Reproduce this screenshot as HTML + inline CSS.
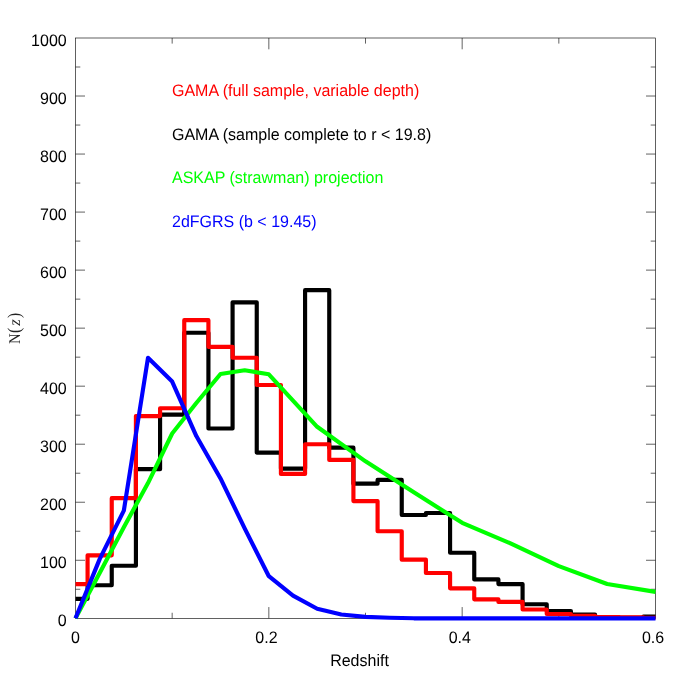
<!DOCTYPE html>
<html><head><meta charset="utf-8"><title>N(z)</title>
<style>
html,body{margin:0;padding:0;background:#fff;}
body{width:692px;height:692px;overflow:hidden;}
svg{display:block;will-change:transform;}
text{font-family:"Liberation Sans",sans-serif;font-size:16px;fill:#000;text-rendering:geometricPrecision;}
.ser{font-family:"Liberation Serif",serif;}
</style></head>
<body>
<svg width="692" height="692" viewBox="0 0 692 692">
<rect x="0" y="0" width="692" height="692" fill="#fff"/>
<g fill="none" stroke="#000" stroke-width="0.62">
<rect x="75.5" y="38.0" width="580.0" height="580.35"/>
<path d="M75.5,589.28h4.8 M655.5,589.28h-4.8 M75.5,560.27h9.5 M655.5,560.27h-9.5 M75.5,531.25h4.8 M655.5,531.25h-4.8 M75.5,502.24h9.5 M655.5,502.24h-9.5 M75.5,473.22h4.8 M655.5,473.22h-4.8 M75.5,444.21h9.5 M655.5,444.21h-9.5 M75.5,415.19h4.8 M655.5,415.19h-4.8 M75.5,386.18h9.5 M655.5,386.18h-9.5 M75.5,357.16h4.8 M655.5,357.16h-4.8 M75.5,328.15h9.5 M655.5,328.15h-9.5 M75.5,299.13h4.8 M655.5,299.13h-4.8 M75.5,270.12h9.5 M655.5,270.12h-9.5 M75.5,241.10h4.8 M655.5,241.10h-4.8 M75.5,212.09h9.5 M655.5,212.09h-9.5 M75.5,183.07h4.8 M655.5,183.07h-4.8 M75.5,154.06h9.5 M655.5,154.06h-9.5 M75.5,125.05h4.8 M655.5,125.05h-4.8 M75.5,96.03h9.5 M655.5,96.03h-9.5 M75.5,67.01h4.8 M655.5,67.01h-4.8 M172.17,618.35v-5.6 M172.17,38.0v5.6 M268.83,618.35v-11.3 M268.83,38.0v11.3 M365.50,618.35v-5.6 M365.50,38.0v5.6 M462.17,618.35v-11.3 M462.17,38.0v11.3 M558.83,618.35v-5.6 M558.83,38.0v5.6"/>
</g>
<g fill="none" stroke-width="4.15" stroke-linejoin="round" stroke-linecap="butt">
<path d="M75.50,598.86 L87.58,598.86 L87.58,585.22 L111.75,585.22 L111.75,565.78 L135.92,565.78 L135.92,469.16 L160.08,469.16 L160.08,414.61 L184.25,414.61 L184.25,332.79 L208.42,332.79 L208.42,428.54 L232.58,428.54 L232.58,302.33 L256.75,302.33 L256.75,452.62 L280.92,452.62 L280.92,468.58 L305.08,468.58 L305.08,290.14 L329.25,290.14 L329.25,447.69 L353.42,447.69 L353.42,483.67 L377.58,483.67 L377.58,479.90 L401.75,479.90 L401.75,515.01 L425.92,515.01 L425.92,512.98 L450.08,512.98 L450.08,552.73 L474.25,552.73 L474.25,579.42 L498.42,579.42 L498.42,584.06 L522.58,584.06 L522.58,604.20 L546.75,604.20 L546.75,611.10 L570.92,611.10 L570.92,614.59 L595.08,614.59 L595.08,617.43 L619.25,617.43 L619.25,617.72 L643.42,617.72 L643.42,616.56 L655.50,616.56" stroke="#000"/>
<path d="M75.50,584.06 L87.58,584.06 L87.58,555.34 L111.75,555.34 L111.75,498.18 L135.92,498.18 L135.92,416.07 L160.08,416.07 L160.08,408.23 L184.25,408.23 L184.25,320.14 L208.42,320.14 L208.42,346.84 L232.58,346.84 L232.58,357.75 L256.75,357.75 L256.75,385.02 L280.92,385.02 L280.92,473.92 L305.08,473.92 L305.08,444.21 L329.25,444.21 L329.25,459.88 L353.42,459.88 L353.42,501.08 L377.58,501.08 L377.58,531.25 L401.75,531.25 L401.75,559.69 L425.92,559.69 L425.92,573.04 L450.08,573.04 L450.08,588.30 L474.25,588.30 L474.25,599.32 L498.42,599.32 L498.42,601.94 L522.58,601.94 L522.58,609.48 L546.75,609.48 L546.75,613.95 L570.92,613.95 L570.92,615.80 L595.08,615.80 L595.08,617.14 L619.25,617.14 L619.25,617.43 L643.42,617.43 L643.42,617.72 L655.50,617.72" stroke="#f00"/>
<path d="M75.50,618.30 L99.67,573.04 L123.83,527.19 L148.00,483.09 L172.17,433.47 L196.33,403.01 L220.50,373.99 L244.67,370.22 L268.83,374.28 L293.00,400.69 L317.17,426.80 L365.50,461.33 L413.83,492.37 L462.17,522.84 L510.50,543.44 L558.83,566.07 L607.17,584.06 L655.50,591.90" stroke="#0f0"/>
<path d="M75.50,618.30 L99.67,559.11 L123.83,510.65 L148.00,357.75 L172.17,381.54 L196.33,436.09 L220.50,478.45 L244.67,528.35 L268.83,576.23 L293.00,595.67 L317.17,608.73 L341.33,614.53 L365.50,616.85 L389.67,617.72 L413.83,618.30 L655.50,618.30" stroke="#00f"/>
</g>
<g><text transform="translate(66.70,626.30) scale(1,1.04)" text-anchor="end">0</text><text transform="translate(66.70,568.27) scale(1,1.04)" text-anchor="end">100</text><text transform="translate(66.70,510.24) scale(1,1.04)" text-anchor="end">200</text><text transform="translate(66.70,452.21) scale(1,1.04)" text-anchor="end">300</text><text transform="translate(66.70,394.18) scale(1,1.04)" text-anchor="end">400</text><text transform="translate(66.70,336.15) scale(1,1.04)" text-anchor="end">500</text><text transform="translate(66.70,278.12) scale(1,1.04)" text-anchor="end">600</text><text transform="translate(66.70,220.09) scale(1,1.04)" text-anchor="end">700</text><text transform="translate(66.70,162.06) scale(1,1.04)" text-anchor="end">800</text><text transform="translate(66.70,104.03) scale(1,1.04)" text-anchor="end">900</text><text transform="translate(66.70,46.00) scale(1,1.04)" text-anchor="end">1000</text></g>
<g><text transform="translate(75.40,643.10) scale(1,1.04)" text-anchor="middle">0</text><text transform="translate(266.43,643.10) scale(1,1.04)" text-anchor="middle">0.2</text><text transform="translate(459.77,643.10) scale(1,1.04)" text-anchor="middle">0.4</text><text transform="translate(653.10,643.10) scale(1,1.04)" text-anchor="middle">0.6</text></g>
<text transform="translate(359.50,666.30) scale(1,1.04)" text-anchor="middle">Redshift</text>
<g class="ser" style="font-family:'Liberation Serif',serif;fill:#222">
<text transform="translate(19.7,344.1) rotate(-90) scale(0.89,1)" style="font-family:'Liberation Serif',serif;font-size:16.4px;fill:#222">N</text>
<text transform="translate(19.5,333.1) rotate(-90) scale(0.85,1)" style="font-family:'Liberation Serif',serif;font-size:18.2px;fill:#222">(</text>
<text transform="translate(19.6,325.76) rotate(-90)" style="font-family:'Liberation Serif',serif;font-size:16.5px;font-style:italic;fill:#222">z</text>
<text transform="translate(19.5,317.9) rotate(-90) scale(0.85,1)" style="font-family:'Liberation Serif',serif;font-size:18.2px;fill:#222">)</text>
</g>
<text transform="translate(172.00,96.00) scale(1,1.04)" text-anchor="start" style="fill:#f00">GAMA (full sample, variable depth)</text>
<text transform="translate(172.00,139.50) scale(1,1.04)" text-anchor="start">GAMA (sample complete to r &lt; 19.8)</text>
<text transform="translate(172.00,183.00) scale(1,1.04)" text-anchor="start" style="fill:#0f0">ASKAP (strawman) projection</text>
<text transform="translate(172.00,226.50) scale(1,1.04)" text-anchor="start" style="fill:#00f">2dFGRS (b &lt; 19.45)</text>
</svg>
</body></html>
